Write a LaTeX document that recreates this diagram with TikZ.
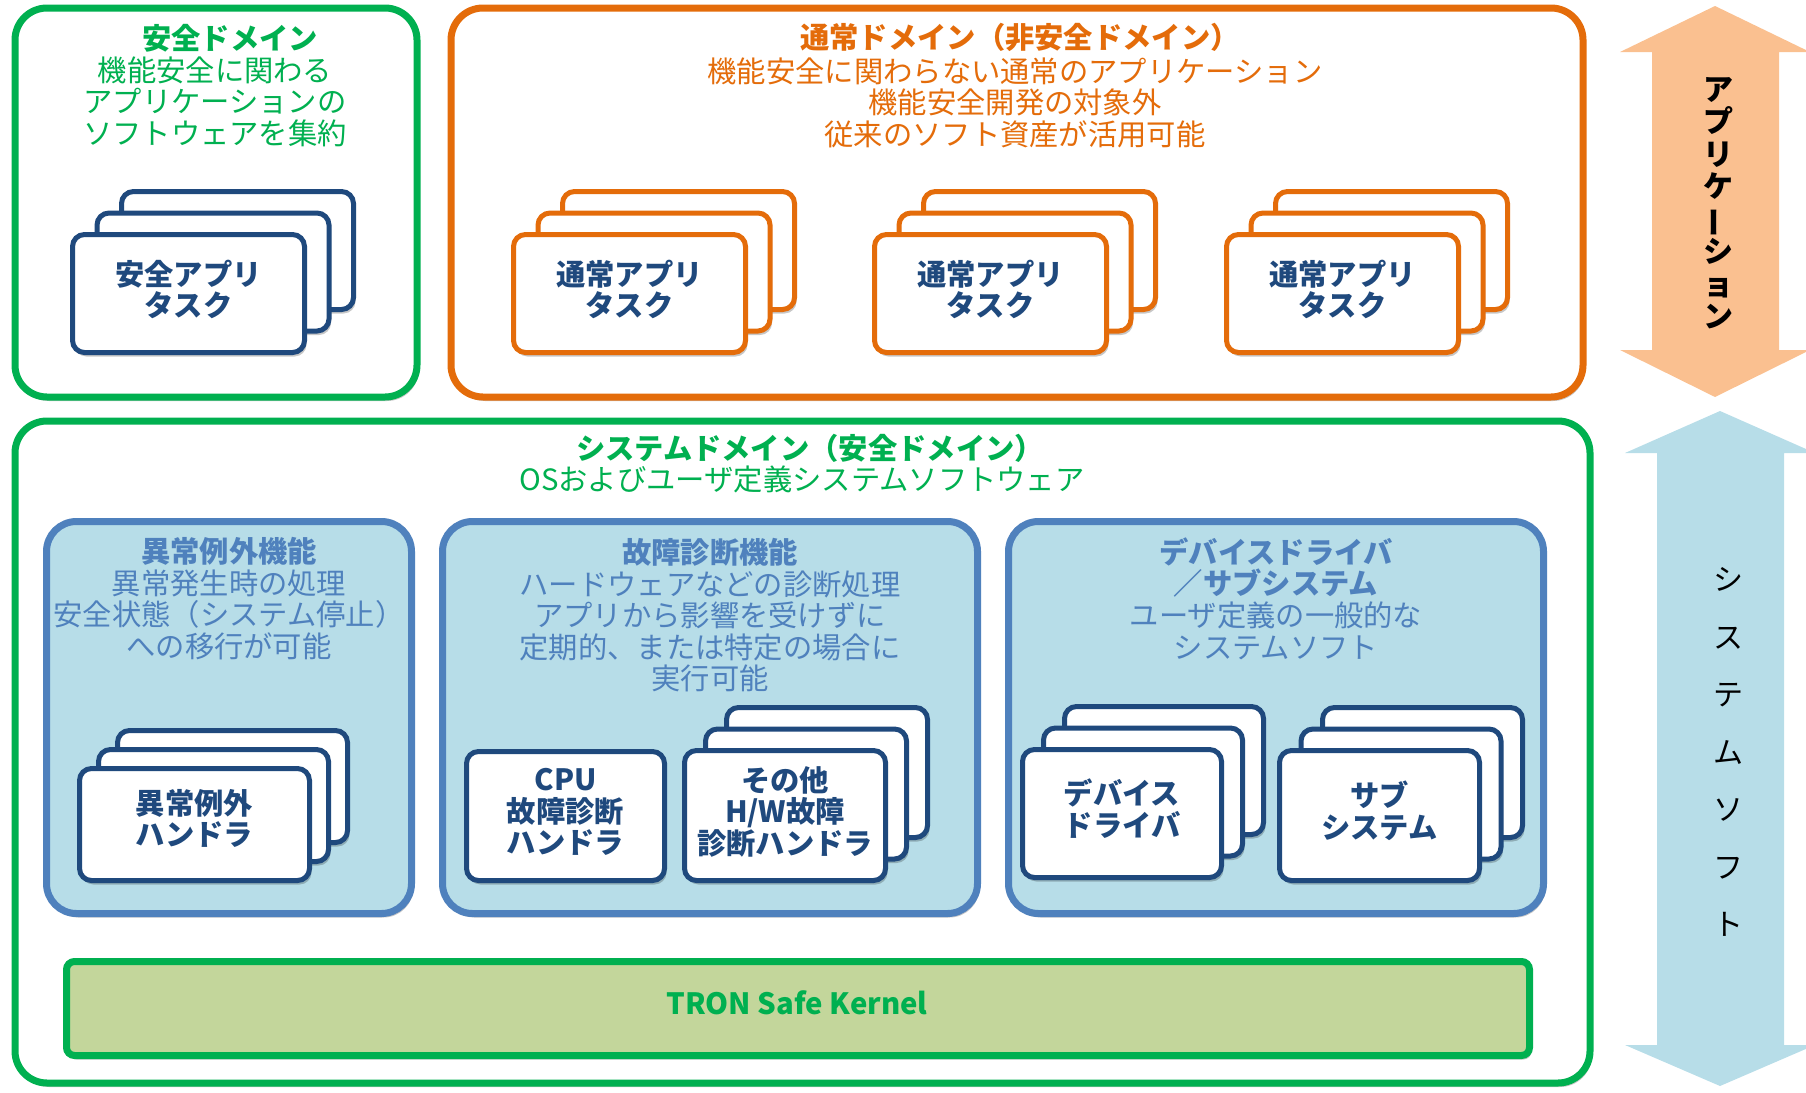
\documentclass[tikz,border=0pt]{standalone}
\usepackage{fontspec}
\usepackage{graphicx}
\setmainfont{Noto Sans CJK JP}
\usetikzlibrary{shadows}
\definecolor{dgreen}{HTML}{00B050}
\definecolor{dorange}{HTML}{E46C0A}
\definecolor{navy}{HTML}{1F497D}
\definecolor{pborder}{HTML}{4F81BD}
\definecolor{pfill}{HTML}{B7DDE8}
\definecolor{kfill}{HTML}{C3D69B}
\definecolor{afill}{HTML}{FAC090}
\newcommand{\fsz}{\fontsize{29.3}{31.5}\selectfont}
\tikzset{
  shad/.style={drop shadow={shadow xshift=2pt,shadow yshift=-4pt,opacity=0.22,fill=black}},
  domain/.style={draw=#1, line width=7pt, fill=white, rounded corners=32pt, shad, inner sep=0pt},
  panel/.style={draw=pborder, line width=7pt, fill=pfill, rounded corners=30pt, shad, inner sep=0pt},
  kernelbox/.style={draw=dgreen, line width=7pt, fill=kfill, rounded corners=8pt, shad, inner sep=0pt},
  card/.style={draw=navy, line width=5pt, fill=white, rounded corners=12pt, shad, inner sep=0pt},
  ocard/.style={card, draw=dorange},
  ctext/.style={align=center, font=\fsz\bfseries, text=navy},
  ttl/.style={align=center, font=\fsz\bfseries, text=#1},
  body/.style={align=center, font=\fsz, text=#1},
}
\begin{document}
\begin{tikzpicture}[x=1pt,y=-1pt]
\useasboundingbox (0,0) rectangle (1806,1092);

% side arrows
\fill[afill] (1715,6) -- (1810,52) -- (1779,52) -- (1779,350) -- (1810,350) -- (1715,397)
  -- (1620,350) -- (1652,350) -- (1652,52) -- (1620,52) -- cycle;
\fill[pfill] (1720,411) -- (1815,453) -- (1784,453) -- (1784,1045) -- (1815,1045) -- (1720,1086)
  -- (1625,1045) -- (1657,1045) -- (1657,453) -- (1625,453) -- cycle;
\node[align=center, font=\fontsize{30}{32.5}\selectfont\bfseries]
  (applabel) at (1718,203) {ア\\プ\\リ\\ケ\\\smash{\rotatebox[origin=c]{90}{ー}}\\シ\\ョ\\ン};
\node[align=center, font=\fontsize{30}{57.5}\selectfont]
  (syslabel) at (1728,752) {シ\\ス\\テ\\ム\\ソ\\フ\\ト};

% domains
\node[domain=dgreen, minimum width=402, minimum height=389] (safe) at (216,202.5) {};
\node[domain=dorange, minimum width=1132, minimum height=389] (normal) at (1017,202.5) {};
\node[domain=dgreen, minimum width=1575, minimum height=662] (sys) at (802.5,752) {};

% domain texts
\node[ttl=dgreen] (safeT) at (230,38) {安全ドメイン};
\node[body=dgreen] (safeB) at (215,101.5) {機能安全に関わる\\アプリケーションの\\ソフトウェアを集約};
\node[ttl=dorange] (normT) at (1020,37) {通常ドメイン（非安全ドメイン）};
\node[body=dorange] (normB) at (1015,102.5) {機能安全に関わらない通常のアプリケーション\\機能安全開発の対象外\\従来のソフト資産が活用可能};
\node[ttl=dgreen] (sysT) at (810,448) {システムドメイン（安全ドメイン）};
\node[body=dgreen] (sysB) at (802,479) {OSおよびユーザ定義システムソフトウェア};

% safety app stack
\node[card, minimum width=232, minimum height=118] (sa3) at (237.5,250.5) {};
\node[card, minimum width=232, minimum height=118] (sa2) at (213,272) {};
\node[card, minimum width=232, minimum height=118] (sa1) at (188.5,293.5) {};
\node[ctext] (sa1t) at ([yshift=4pt]sa1.center) {安全アプリ\\タスク};

% normal app stacks
\foreach \i/\x in {1/629.5,2/990.5,3/1342.5}{
  \node[ocard, minimum width=232, minimum height=118] (na\i c) at (\x+49,250.5) {};
  \node[ocard, minimum width=232, minimum height=118] (na\i b) at (\x+24.5,272) {};
  \node[ocard, minimum width=232, minimum height=118] (na\i a) at (\x,293.5) {};
  \node[ctext] (na\i t) at ([yshift=4pt]na\i a.center) {通常アプリ\\タスク};
}

% panels
\node[panel, minimum width=365, minimum height=392] (p1) at (229,717.5) {};
\node[panel, minimum width=535, minimum height=392] (p2) at (710,717.5) {};
\node[panel, minimum width=535, minimum height=392] (p3) at (1276,717.5) {};

\node[ttl=pborder] (p1T) at (229,551) {異常例外機能};
\node[body=pborder] (p1B) at (229,614.5) {異常発生時の処理\\安全状態（システム停止）\\への移行が可能};
\node[ttl=pborder] (p2T) at (710,552) {故障診断機能};
\node[body=pborder] (p2B) at (710,631.5) {ハードウェアなどの診断処理\\アプリから影響を受けずに\\定期的、または特定の場合に\\実行可能};
\node[ttl=pborder] (p3T) at (1276,567.5) {デバイスドライバ\\／サブシステム};
\node[body=pborder] (p3B) at (1276,631) {ユーザ定義の一般的な\\システムソフト};

% panel 1 stack
\node[card, minimum width=230, minimum height=112] (eh3) at (232.5,786.5) {};
\node[card, minimum width=230, minimum height=112] (eh2) at (213.5,805.5) {};
\node[card, minimum width=230, minimum height=112] (eh1) at (194.5,824.5) {};
\node[ctext] (eh1t) at ([yshift=6pt]eh1.center) {異常例外\\ハンドラ};

% panel 2 cards
\node[card, minimum width=198, minimum height=129] (cpu) at (565.5,816) {};
\node[ctext] (cput) at ([yshift=4pt]cpu.center) {CPU\\故障診断\\ハンドラ};
\node[card, minimum width=201, minimum height=130] (hw3) at (827,772.5) {};
\node[card, minimum width=201, minimum height=130] (hw2) at (806,794) {};
\node[card, minimum width=201, minimum height=130] (hw1) at (785,815.5) {};
\node[ctext] (hw1t) at ([yshift=4pt]hw1.center) {その他\\H/W故障\\診断ハンドラ};

% panel 3 stacks
\node[card, minimum width=199, minimum height=128] (dd3) at (1164,770.5) {};
\node[card, minimum width=199, minimum height=128] (dd2) at (1143,792) {};
\node[card, minimum width=199, minimum height=128] (dd1) at (1122,813.5) {};
\node[ctext] (dd1t) at ([yshift=5pt]dd1.center) {デバイス\\ドライバ};
\node[card, minimum width=200, minimum height=130] (ss3) at (1422.5,772.5) {};
\node[card, minimum width=200, minimum height=130] (ss2) at (1401,794) {};
\node[card, minimum width=200, minimum height=130] (ss1) at (1379.5,815.5) {};
\node[ctext] (ss1t) at ([yshift=4.5pt]ss1.center) {サブ\\システム};

% kernel
\node[kernelbox, minimum width=1463, minimum height=94] (kernel) at (798,1008.5) {};
\node[ttl=dgreen] (kernelT) at (797,1003) {TRON Safe Kernel};
\end{tikzpicture}
\end{document}
